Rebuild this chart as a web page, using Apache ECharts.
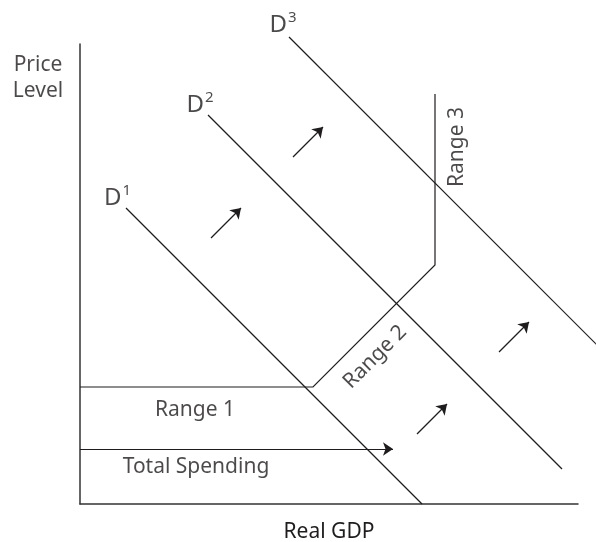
<!DOCTYPE html>
<html>
<head>
<meta charset="utf-8">
<script src="https://cdn.jsdelivr.net/npm/echarts@6/dist/echarts.min.js"></script>
<style>html,body{margin:0;padding:0;background:#fff}#main{width:596px;height:542px}</style>
</head>
<body>
<div id="main"></div>
<script>
//需求曲线 D1 D2 D3 （横坐标 Real GDP，纵坐标 Price Level）
var demand1 = [[9.2, 59.2], [68.4, 0]];
var demand2 = [[25.6, 77.8], [96.4, 7.0]];
var demand3 = [[41.8, 93.4], [104, 31.2]];
//总供给曲线：Range 1 / Range 2 / Range 3
var supply = [[0, 23.4], [46.6, 23.4], [71, 47.8], [71, 82]];
//Total Spending 箭头
var spending = [[0, 11], [62.6, 11]];
//需求右移的小箭头
var shifts = [
	[[26.2, 53.2], [32.2, 59.2]],
	[[42.6, 69.4], [48.6, 75.4]],
	[[67.4, 14], [73.4, 20]],
	[[83.8, 30.4], [89.8, 36.4]]
];
var demandNames = ['1', '2', '3'];
var rangeNames = ['Range 1', 'Range 2', 'Range 3'];

var ink = '#1f1c1d';
var font = '"Noto Sans", "Open Sans", sans-serif';

//曲线（lines 系列，不裁剪）
function curve(data) {
	return {
		type: 'lines',
		coordinateSystem: 'cartesian2d',
		polyline: true,
		data: [{ coords: data }],
		clip: false,
		silent: true,
		lineStyle: { color: ink, width: 1.2, opacity: 1 },
		z: 3
	}
}
//箭头
function arrows(list) {
	var data = [];
	for (var i = 0; i < list.length; i++) {
		data.push({ coords: list[i] });
	}
	return {
		type: 'lines',
		coordinateSystem: 'cartesian2d',
		data: data,
		symbol: ['none', 'arrow'],
		symbolSize: 10,
		clip: false,
		silent: true,
		lineStyle: { color: ink, width: 1.2, opacity: 1 },
		z: 3
	}
}

var dLabel = {
	show: true,
	position: 'inside',
	formatter: function (p) { return '{b|D}{s|' + p.data.name + '}'; },
	rich: {
		b: { fontSize: 24, color: ink, fontFamily: font },
		s: { fontSize: 15, color: ink, fontFamily: font, padding: [0, 0, 14, 1] }
	}
};
var txt = { fontSize: 21, color: ink, fontFamily: font };

var labels = [
	{ name: demandNames[0], value: [7.5, 61.2], label: dLabel },
	{ name: demandNames[1], value: [24.0, 79.8], label: dLabel },
	{ name: demandNames[2], value: [40.6, 95.8], label: dLabel },
	{ name: rangeNames[0], value: [23.0, 18.8], label: Object.assign({ show: true, position: 'inside', formatter: '{b}' }, txt) },
	{ name: 'Total Spending', value: [23.2, 7.4], label: Object.assign({ show: true, position: 'inside', formatter: '{b}' }, txt) },
	{ name: rangeNames[1], value: [59.0, 29.4], label: Object.assign({ show: true, position: 'inside', formatter: '{b}', rotate: 45 }, txt) },
	{ name: rangeNames[2], value: [75.4, 71.4], label: Object.assign({ show: true, position: 'inside', formatter: '{b}', rotate: 90 }, txt) },
	{ name: 'Price\nLevel', value: [-8.4, 85.2], label: Object.assign({ show: true, position: 'inside', formatter: '{b}', lineHeight: 26 }, txt) }
];

var myChart = echarts.init(document.getElementById('main'));
var option = {
	animation: false,
	backgroundColor: '#fff',
	grid: { left: 80, top: 44, width: 498, height: 460, outerBoundsMode: 'none', containLabel: false },
	xAxis: {
		type: 'value', min: 0, max: 99.6,
		name: 'Real GDP', nameLocation: 'middle', nameGap: 18,
		nameTextStyle: txt,
		axisLine: { show: true, lineStyle: { color: '#333', width: 1.5 } },
		axisTick: { show: false }, axisLabel: { show: false }, splitLine: { show: false }
	},
	yAxis: {
		type: 'value', min: 0, max: 92,
		axisLine: { show: true, lineStyle: { color: '#333', width: 1.5 } },
		axisTick: { show: false }, axisLabel: { show: false }, splitLine: { show: false }
	},
	series: [
		curve(demand1),
		curve(demand2),
		curve(demand3),
		curve(supply),
		arrows([spending]),
		arrows(shifts),
		{
			type: 'scatter',
			data: labels,
			symbolSize: 0,
			clip: false,
			silent: true,
			z: 4
		}
	]
};
myChart.setOption(option, true);
</script>
</body>
</html>
